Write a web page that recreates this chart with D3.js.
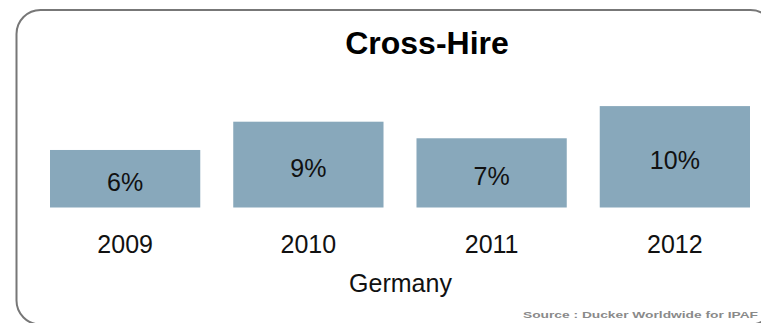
<!DOCTYPE html>
<html>
<head>
<meta charset="utf-8">
<script src="https://cdn.jsdelivr.net/npm/d3@7"></script>
<style>
  body { margin: 0; background: #fff; }
  text { font-family: "Liberation Sans", Arial, sans-serif; }
</style>
</head>
<body>
<div id="chart"></div>
<script>
// chart data
const years = ['2009', '2010', '2011', '2012'];
const shares = [5.9, 8.8, 7.1, 10.4];   // labels are rounded
const chartTitle = 'Cross-Hire';
const groupLabel = 'Germany';
const sourceNote = 'Source : Ducker Worldwide for IPAF';

const W = 761, H = 323;
const baseY = 207.5;

const svg = d3.select('#chart')
    .append('svg')
    .attr('width', W)
    .attr('height', H);

// rounded frame, bottom and right edges run off the canvas
svg.append('rect')
    .attr('x', 16.5)
    .attr('y', 10)
    .attr('width', 758)
    .attr('height', 314.5)
    .attr('rx', 24)
    .attr('fill', 'none')
    .attr('stroke', '#777')
    .attr('stroke-width', 2);

svg.append('text')
    .attr('x', 427)
    .attr('y', 54)
    .attr('text-anchor', 'middle')
    .style('font-size', '32px')
    .style('font-weight', 'bold')
    .attr('fill', '#000')
    .text(chartTitle);

const x = d3.scaleBand().domain(years).range([50, 750]).paddingInner(0.18).paddingOuter(0);
const y = d3.scaleLinear().domain([0, 11]).range([baseY, baseY - 11 * 9.75]);

svg.selectAll('.bar')
    .data(years)
    .enter()
    .append('rect')
    .attr('class', 'bar')
    .attr('x', d => x(d))
    .attr('y', (d, i) => y(shares[i]))
    .attr('width', x.bandwidth())
    .attr('height', (d, i) => baseY - y(shares[i]))
    .attr('fill', '#88a8bb');

// value labels in the middle of each bar
svg.selectAll('.val')
    .data(years)
    .enter()
    .append('text')
    .attr('class', 'val')
    .attr('x', d => x(d) + x.bandwidth() / 2)
    .attr('y', (d, i) => (y(shares[i]) + baseY) / 2 + 12)
    .attr('text-anchor', 'middle')
    .style('font-size', '25px')
    .attr('fill', '#111')
    .text((d, i) => Math.round(shares[i]) + '%');

// category axis, no line or ticks
const xAxis = svg.append('g')
    .attr('transform', `translate(0,${baseY})`)
    .call(d3.axisBottom(x).tickSize(0).tickPadding(0));
xAxis.select('.domain').remove();
xAxis.selectAll('text')
    .attr('y', 45.5)
    .attr('dy', null)
    .style('font-size', '25px')
    .style('font-family', '"Liberation Sans", Arial, sans-serif')
    .attr('fill', '#111');

svg.append('text')
    .attr('x', 400.5)
    .attr('y', 292)
    .attr('text-anchor', 'middle')
    .style('font-size', '25px')
    .attr('fill', '#111')
    .text(groupLabel);

svg.append('text')
    .attr('x', 523)
    .attr('y', 318)
    .attr('textLength', 235)
    .attr('lengthAdjust', 'spacingAndGlyphs')
    .style('font-size', '9px')
    .style('font-weight', 'bold')
    .attr('fill', '#8a8a8a')
    .text(sourceNote);
</script>
</body>
</html>
